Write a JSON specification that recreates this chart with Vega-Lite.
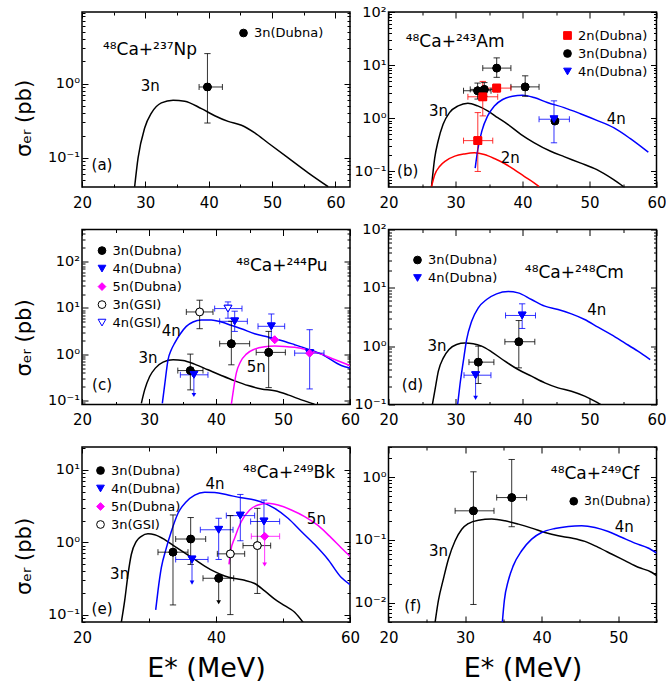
{
"$schema": "https://vega.github.io/schema/vega-lite/v6.json",
"padding": {"left": 12, "top": 3, "right": 5, "bottom": 3},
"config": {
 "font": "DejaVu Sans",
 "view": {"stroke": "#000000", "strokeWidth": 1.5},
 "axis": {"domain": false, "grid": false, "labelFontSize": 15, "labelColor": "#000000", "tickColor": "#000000", "tickWidth": 1, "labelFlush": false, "labelOverlap": false, "titleFontWeight": "normal", "titleColor": "#000000", "zindex": 1},
 "axisY": {"labelFontSize": 14.5, "titleFontSize": 21},
 "axisX": {"titleFontSize": 27, "titlePadding": 10},
 "text": {"color": "#000000"}
},
"datasets": {
 "ca": [
  {"c":"3n","E":28.31,"s":0.041},{"c":"3n","E":28.85,"s":0.1},{"c":"3n","E":29.89,"s":0.253},{"c":"3n","E":30.95,"s":0.40},{"c":"3n","E":32.53,"s":0.55},{"c":"3n","E":34.38,"s":0.597},{"c":"3n","E":36.21,"s":0.58},{"c":"3n","E":38.85,"s":0.46},{"c":"3n","E":40.95,"s":0.37},{"c":"3n","E":43.06,"s":0.31},{"c":"3n","E":45.17,"s":0.275},{"c":"3n","E":47.27,"s":0.217},{"c":"3n","E":49.38,"s":0.159},{"c":"3n","E":52.54,"s":0.1},{"c":"3n","E":55.7,"s":0.063},{"c":"3n","E":58.86,"s":0.041}
 ],
 "cb": [
  {"c":"3n","E":26.42,"s":0.052},{"c":"3n","E":26.9,"s":0.18},{"c":"3n","E":27.4,"s":0.37},{"c":"3n","E":28.15,"s":0.77},{"c":"3n","E":29.1,"s":1.28},{"c":"3n","E":30.4,"s":1.71},{"c":"3n","E":31.85,"s":1.92},{"c":"3n","E":33.3,"s":1.71},{"c":"3n","E":34.8,"s":1.38},{"c":"3n","E":36.3,"s":1.03},{"c":"3n","E":37.8,"s":0.77},{"c":"3n","E":39.75,"s":0.50},{"c":"3n","E":41.7,"s":0.35},{"c":"3n","E":44.2,"s":0.24},{"c":"3n","E":46.2,"s":0.19},{"c":"3n","E":48.6,"s":0.145},{"c":"3n","E":51.1,"s":0.108},{"c":"3n","E":53.6,"s":0.07},{"c":"3n","E":55.06,"s":0.052},
  {"c":"2n","E":26.42,"s":0.052},{"c":"2n","E":26.9,"s":0.087},{"c":"2n","E":27.65,"s":0.125},{"c":"2n","E":28.6,"s":0.16},{"c":"2n","E":29.9,"s":0.194},{"c":"2n","E":31.36,"s":0.214},{"c":"2n","E":32.84,"s":0.224},{"c":"2n","E":34.3,"s":0.208},{"c":"2n","E":35.8,"s":0.175},{"c":"2n","E":37.3,"s":0.141},{"c":"2n","E":38.77,"s":0.108},{"c":"2n","E":40.25,"s":0.081},{"c":"2n","E":41.73,"s":0.061},{"c":"2n","E":42.47,"s":0.052},
  {"c":"4n","E":32.94,"s":0.116},{"c":"4n","E":33.33,"s":0.26},{"c":"4n","E":33.93,"s":0.575},{"c":"4n","E":34.8,"s":1.11},{"c":"4n","E":35.8,"s":1.71},{"c":"4n","E":37.04,"s":2.26},{"c":"4n","E":38.5,"s":2.61},{"c":"4n","E":40.0,"s":2.72},{"c":"4n","E":41.73,"s":2.46},{"c":"4n","E":43.7,"s":1.98},{"c":"4n","E":46.2,"s":1.59},{"c":"4n","E":48.64,"s":1.22},{"c":"4n","E":51.1,"s":0.916},{"c":"4n","E":53.6,"s":0.666},{"c":"4n","E":56.05,"s":0.418},{"c":"4n","E":58.77,"s":0.23}
 ],
 "cc": [
  {"c":"3n","E":28.86,"s":0.086},{"c":"3n","E":29.35,"s":0.168},{"c":"3n","E":30.1,"s":0.327},{"c":"3n","E":30.95,"s":0.497},{"c":"3n","E":32.1,"s":0.67},{"c":"3n","E":33.6,"s":0.753},{"c":"3n","E":35.07,"s":0.728},{"c":"3n","E":36.8,"s":0.607},{"c":"3n","E":38.8,"s":0.457},{"c":"3n","E":40.8,"s":0.344},{"c":"3n","E":42.8,"s":0.263},{"c":"3n","E":44.8,"s":0.208},{"c":"3n","E":46.77,"s":0.176},{"c":"3n","E":48.76,"s":0.16},{"c":"3n","E":50.75,"s":0.131},{"c":"3n","E":52.74,"s":0.102},{"c":"3n","E":54.7,"s":0.082},
  {"c":"4n","E":31.99,"s":0.086},{"c":"4n","E":32.34,"s":0.215},{"c":"4n","E":32.84,"s":0.753},{"c":"4n","E":33.33,"s":1.24},{"c":"4n","E":33.83,"s":1.73},{"c":"4n","E":34.58,"s":2.63},{"c":"4n","E":35.57,"s":3.99},{"c":"4n","E":36.57,"s":4.96},{"c":"4n","E":37.8,"s":5.48},{"c":"4n","E":39.3,"s":5.48},{"c":"4n","E":40.8,"s":4.96},{"c":"4n","E":42.29,"s":4.2},{"c":"4n","E":43.78,"s":3.55},{"c":"4n","E":45.77,"s":2.77},{"c":"4n","E":47.76,"s":2.34},{"c":"4n","E":49.75,"s":1.98},{"c":"4n","E":51.74,"s":1.6},{"c":"4n","E":53.73,"s":1.28},{"c":"4n","E":55.72,"s":1.0},{"c":"4n","E":58.7,"s":0.567},{"c":"4n","E":60,"s":0.5},
  {"c":"5n","E":42.29,"s":0.082},{"c":"5n","E":42.64,"s":0.182},{"c":"5n","E":43.03,"s":0.386},{"c":"5n","E":43.68,"s":0.693},{"c":"5n","E":44.53,"s":1.0},{"c":"5n","E":45.77,"s":1.28},{"c":"5n","E":47.26,"s":1.44},{"c":"5n","E":48.76,"s":1.49},{"c":"5n","E":50.25,"s":1.47},{"c":"5n","E":51.74,"s":1.40},{"c":"5n","E":53.73,"s":1.22},{"c":"5n","E":55.72,"s":1.0},{"c":"5n","E":57.7,"s":0.765},{"c":"5n","E":60,"s":0.567}
 ],
 "cd": [
  {"c":"3n","E":26.55,"s":0.1},{"c":"3n","E":26.95,"s":0.181},{"c":"3n","E":27.44,"s":0.373},{"c":"3n","E":28.19,"s":0.63},{"c":"3n","E":29.03,"s":0.877},{"c":"3n","E":30.17,"s":1.07},{"c":"3n","E":31.41,"s":1.13},{"c":"3n","E":32.65,"s":1.1},{"c":"3n","E":33.9,"s":1.0},{"c":"3n","E":35.38,"s":0.8},{"c":"3n","E":37.37,"s":0.553},{"c":"3n","E":39.35,"s":0.398},{"c":"3n","E":41.34,"s":0.306},{"c":"3n","E":43.33,"s":0.235},{"c":"3n","E":45.31,"s":0.193},{"c":"3n","E":47.3,"s":0.169},{"c":"3n","E":49.28,"s":0.139},{"c":"3n","E":50.77,"s":0.114},{"c":"3n","E":51.66,"s":0.1},
  {"c":"4n","E":30.32,"s":0.1},{"c":"4n","E":30.67,"s":0.22},{"c":"4n","E":31.17,"s":0.553},{"c":"4n","E":31.66,"s":1.3},{"c":"4n","E":32.41,"s":2.68},{"c":"4n","E":33.4,"s":4.54},{"c":"4n","E":34.64,"s":6.31},{"c":"4n","E":36.13,"s":7.89},{"c":"4n","E":37.87,"s":8.65},{"c":"4n","E":39.35,"s":8.2},{"c":"4n","E":41.34,"s":6.31},{"c":"4n","E":43.33,"s":4.85},{"c":"4n","E":45.31,"s":4.25},{"c":"4n","E":47.3,"s":3.58},{"c":"4n","E":49.28,"s":2.87},{"c":"4n","E":51.27,"s":2.12},{"c":"4n","E":53.25,"s":1.58},{"c":"4n","E":55.24,"s":1.14},{"c":"4n","E":57.22,"s":0.82},{"c":"4n","E":59.06,"s":0.59}
 ],
 "ce": [
  {"c":"3n","E":25.87,"s":0.0785},{"c":"3n","E":26.37,"s":0.156},{"c":"3n","E":26.87,"s":0.361},{"c":"3n","E":27.36,"s":0.678},{"c":"3n","E":28.11,"s":1.03},{"c":"3n","E":28.86,"s":1.21},{"c":"3n","E":29.85,"s":1.31},{"c":"3n","E":30.85,"s":1.27},{"c":"3n","E":32.34,"s":1.09},{"c":"3n","E":33.83,"s":0.88},{"c":"3n","E":35.32,"s":0.714},{"c":"3n","E":36.82,"s":0.579},{"c":"3n","E":38.31,"s":0.469},{"c":"3n","E":39.8,"s":0.392},{"c":"3n","E":41.29,"s":0.342},{"c":"3n","E":42.79,"s":0.315},{"c":"3n","E":44.28,"s":0.298},{"c":"3n","E":45.77,"s":0.269},{"c":"3n","E":47.26,"s":0.213},{"c":"3n","E":48.76,"s":0.164},{"c":"3n","E":50.25,"s":0.133},{"c":"3n","E":51.74,"s":0.108},{"c":"3n","E":52.99,"s":0.0785},
  {"c":"4n","E":31.0,"s":0.116},{"c":"4n","E":31.34,"s":0.213},{"c":"4n","E":31.84,"s":0.445},{"c":"4n","E":32.59,"s":0.836},{"c":"4n","E":33.33,"s":1.41},{"c":"4n","E":34.33,"s":2.52},{"c":"4n","E":35.57,"s":3.65},{"c":"4n","E":36.82,"s":4.5},{"c":"4n","E":38.31,"s":4.94},{"c":"4n","E":39.8,"s":4.89},{"c":"4n","E":41.79,"s":4.5},{"c":"4n","E":43.78,"s":4.13},{"c":"4n","E":45.77,"s":3.84},{"c":"4n","E":47.26,"s":3.46},{"c":"4n","E":48.76,"s":2.95},{"c":"4n","E":50.75,"s":2.15},{"c":"4n","E":52.74,"s":1.41},{"c":"4n","E":54.73,"s":0.93},{"c":"4n","E":56.72,"s":0.579},{"c":"4n","E":58.71,"s":0.325},{"c":"4n","E":60,"s":0.26},
  {"c":"5n","E":41.94,"s":0.494},{"c":"5n","E":42.19,"s":0.753},{"c":"5n","E":42.79,"s":1.15},{"c":"5n","E":43.78,"s":1.94},{"c":"5n","E":45.02,"s":2.8},{"c":"5n","E":46.27,"s":3.28},{"c":"5n","E":47.76,"s":3.46},{"c":"5n","E":49.25,"s":3.28},{"c":"5n","E":51.24,"s":2.8},{"c":"5n","E":53.23,"s":2.27},{"c":"5n","E":55.22,"s":1.71},{"c":"5n","E":57.21,"s":1.15},{"c":"5n","E":58.71,"s":0.836},{"c":"5n","E":60,"s":0.643}
 ],
 "cf": [
  {"c":"3n","E":26.09,"s":0.00494},{"c":"3n","E":26.52,"s":0.0109},{"c":"3n","E":27.17,"s":0.024},{"c":"3n","E":27.83,"s":0.0497},{"c":"3n","E":28.7,"s":0.097},{"c":"3n","E":29.57,"s":0.148},{"c":"3n","E":30.43,"s":0.182},{"c":"3n","E":31.74,"s":0.206},{"c":"3n","E":33.48,"s":0.214},{"c":"3n","E":35.22,"s":0.201},{"c":"3n","E":36.96,"s":0.178},{"c":"3n","E":38.7,"s":0.154},{"c":"3n","E":40.43,"s":0.131},{"c":"3n","E":42.17,"s":0.116},{"c":"3n","E":43.91,"s":0.107},{"c":"3n","E":45.65,"s":0.0946},{"c":"3n","E":47.39,"s":0.076},{"c":"3n","E":49.13,"s":0.0597},{"c":"3n","E":50.87,"s":0.0468},{"c":"3n","E":52.61,"s":0.0367},{"c":"3n","E":54.35,"s":0.0306},{"c":"3n","E":55,"s":0.027},
  {"c":"4n","E":34.87,"s":0.00494},{"c":"4n","E":35.13,"s":0.0109},{"c":"4n","E":35.65,"s":0.0226},{"c":"4n","E":36.3,"s":0.039},{"c":"4n","E":37.39,"s":0.0673},{"c":"4n","E":38.7,"s":0.103},{"c":"4n","E":40,"s":0.131},{"c":"4n","E":41.74,"s":0.152},{"c":"4n","E":43.48,"s":0.164},{"c":"4n","E":45.22,"s":0.168},{"c":"4n","E":46.96,"s":0.158},{"c":"4n","E":48.7,"s":0.136},{"c":"4n","E":50.43,"s":0.11},{"c":"4n","E":52.17,"s":0.089},{"c":"4n","E":53.91,"s":0.0743},{"c":"4n","E":55,"s":0.0619}
 ],
 "pa": [{"g":"3n(Dubna)","E":39.8,"s":0.9,"xl":38.48,"xh":42.16,"yl":0.295,"yh":2.53}],
 "pb": [
  {"g":"3n(Dubna)","E":33.3,"s":3.3,"xl":31.2,"xh":35.3,"yl":2.3,"yh":4.6},
  {"g":"3n(Dubna)","E":34.3,"s":3.5,"xl":32.2,"xh":36.3,"yl":2.6,"yh":4.7},
  {"g":"3n(Dubna)","E":36.15,"s":8.8,"xl":34.07,"xh":38.27,"yl":5.9,"yh":13.7},
  {"g":"3n(Dubna)","E":40.4,"s":3.9,"xl":38.27,"xh":42.47,"yl":2.6,"yh":6.3},
  {"g":"3n(Dubna)","E":44.84,"s":0.89},
  {"g":"2n(Dubna)","E":33.33,"s":0.38,"xl":31.2,"xh":35.56,"yl":0.1,"yh":1.28},
  {"g":"2n(Dubna)","E":34.07,"s":2.54,"xl":31.85,"xh":36.3,"yl":1.11,"yh":4.94},
  {"g":"2n(Dubna)","E":36.15,"s":3.7,"xl":34.07,"xh":38.27},
  {"g":"4n(Dubna)","E":44.7,"s":0.96,"xl":42.47,"xh":47.0,"yl":0.346,"yh":2.13}
 ],
 "pc": [
  {"g":"3n(Dubna)","E":36.17,"s":0.44,"xl":34.3,"xh":38.06,"yl":0.168,"yh":1.0},
  {"g":"3n(Dubna)","E":42.29,"s":1.68,"xl":40.55,"xh":45.02,"yl":0.586,"yh":5.13},
  {"g":"3n(Dubna)","E":47.86,"s":1.09,"xl":46.0,"xh":50.35,"yl":0.188,"yh":3.1},
  {"g":"4n(Dubna)","E":36.7,"s":0.356,"xl":34.68,"xh":38.8,"lim":0.13},
  {"g":"4n(Dubna)","E":42.79,"s":5.13,"xl":40.55,"xh":44.68,"yl":3.1,"yh":8.5},
  {"g":"4n(Dubna)","E":48.26,"s":4.0,"xl":46.27,"xh":50.25,"yl":2.2,"yh":7.4},
  {"g":"4n(Dubna)","E":53.98,"s":1.05,"xl":51.74,"xh":56.12,"yl":0.176,"yh":3.38},
  {"g":"5n(Dubna)","E":48.76,"s":2.05},
  {"g":"5n(Dubna)","E":53.98,"s":1.05},
  {"g":"3n(GSI)","E":37.56,"s":8.19,"xl":35.57,"xh":39.55,"yl":3.55,"yh":14.7},
  {"g":"4n(GSI)","E":41.79,"s":9.68,"xl":39.8,"xh":43.88,"yl":6.0,"yh":13.5}
 ],
 "pd": [
  {"g":"3n(Dubna)","E":33.4,"s":0.532,"xl":32.01,"xh":35.73,"yl":0.229,"yh":1.0},
  {"g":"3n(Dubna)","E":39.45,"s":1.19,"xl":37.37,"xh":41.84,"yl":0.425,"yh":2.75},
  {"g":"4n(Dubna)","E":33.0,"s":0.318,"xl":31.27,"xh":35.29,"lim":0.13},
  {"g":"4n(Dubna)","E":39.95,"s":3.36,"xl":37.47,"xh":41.94,"yl":2.01,"yh":5.32}
 ],
 "pe": [
  {"g":"3n(Dubna)","E":33.58,"s":0.73,"xl":31.34,"xh":35.82,"yl":0.136,"yh":2.39},
  {"g":"3n(Dubna)","E":36.22,"s":1.11,"xl":33.98,"xh":38.46,"yl":0.494,"yh":2.2},
  {"g":"3n(Dubna)","E":40.4,"s":0.318,"xl":38.06,"xh":42.64,"lim":0.148},
  {"g":"4n(Dubna)","E":36.42,"s":0.579,"xl":33.98,"xh":38.81,"lim":0.277},
  {"g":"4n(Dubna)","E":40.4,"s":1.49,"xl":37.66,"xh":42.54,"yl":0.579,"yh":2.15},
  {"g":"4n(Dubna)","E":43.63,"s":2.34,"xl":41.54,"xh":45.77,"yl":1.05,"yh":4.59},
  {"g":"4n(Dubna)","E":47.16,"s":1.94,"xl":45.17,"xh":49.5,"yl":1.2,"yh":3.84},
  {"g":"5n(Dubna)","E":47.26,"s":1.21,"xl":45.27,"xh":49.5,"lim":0.494},
  {"g":"3n(GSI)","E":42.14,"s":0.692,"xl":40.2,"xh":44.28,"yl":0.1,"yh":2.34},
  {"g":"3n(GSI)","E":46.17,"s":0.9,"xl":44.03,"xh":48.16,"yl":0.196,"yh":2.95}
 ],
 "pf": [
  {"g":"3n(Dubna)","E":31.09,"s":0.29,"xl":28.7,"xh":33.78,"yl":0.0094,"yh":1.21},
  {"g":"3n(Dubna)","E":36.09,"s":0.471,"xl":34.13,"xh":38.04,"yl":0.162,"yh":1.9}
 ]
},
"columns": 2,
"spacing": {"row": 42.5, "column": 38.5},
"bounds": "flush",
"resolve": {"scale": {"x": "independent", "y": "independent", "color": "independent", "stroke": "independent", "fill": "independent", "shape": "independent"}, "legend": {"color": "independent", "stroke": "independent", "fill": "independent", "shape": "independent"}},
"concat": [
 {
  "width": 268, "height": 175,
  "resolve": {"axis": {"x": "independent", "y": "independent"}},
  "layer": [
   {"data": {"name": "ca"}, "mark": {"type": "line", "strokeWidth": 1.5, "clip": true, "interpolate": "monotone"},
    "encoding": {
     "x": {"field": "E", "type": "quantitative", "scale": {"domain": [20, 62.3], "nice": false, "zero": false}, "axis": {"orient": "bottom", "values": [20,30,40,50,60], "tickSize": 6, "offset": -6, "labelPadding": 8, "title": null}},
     "y": {"field": "s", "type": "quantitative", "scale": {"type": "log", "domain": [0.0407, 9.17], "nice": false}, "axis": {"orient": "left", "values": [0.1,1], "labelExpr": "datum.value==0.01?'10⁻²':datum.value==0.1?'10⁻¹':datum.value==1?'10⁰':datum.value==10?'10¹':'10²'", "tickSize": 6, "offset": -6, "labelPadding": 2.5, "title": "σₑᵣ (pb)", "titleX": -54, "titleY": 106}},
     "color": {"field": "c", "type": "nominal", "scale": {"domain": ["2n","3n","4n","5n"], "range": ["#ff0000","#000000","#0000ff","#ff00ff"]}, "legend": null}
    }},
   {"data": {"name": "ca"}, "mark": {"type": "point", "opacity": 0},
    "encoding": {"x": {"field": "E", "type": "quantitative", "axis": {"orient": "bottom", "values": [25,35,45,55], "labels": false, "tickSize": 3, "offset": -3, "title": null}},
     "y": {"field": "s", "type": "quantitative", "axis": {"orient": "left", "values": [0.05,0.06,0.07,0.08,0.09,0.2,0.3,0.4,0.5,0.6,0.7,0.8,0.9,2,3,4,5,6,7,8,9], "labels": false, "tickSize": 3, "offset": -3, "title": null}}}},
   {"data": {"name": "ca"}, "mark": {"type": "point", "opacity": 0},
    "encoding": {"x": {"field": "E", "type": "quantitative", "axis": {"orient": "top", "values": [20,30,40,50,60], "labels": false, "tickSize": 6, "offset": -6, "title": null}},
     "y": {"field": "s", "type": "quantitative", "axis": {"orient": "right", "values": [0.1,1], "labels": false, "tickSize": 6, "offset": -6, "title": null}}}},
   {"data": {"name": "ca"}, "mark": {"type": "point", "opacity": 0},
    "encoding": {"x": {"field": "E", "type": "quantitative", "axis": {"orient": "top", "values": [25,35,45,55], "labels": false, "tickSize": 3, "offset": -3, "title": null}},
     "y": {"field": "s", "type": "quantitative", "axis": {"orient": "right", "values": [0.05,0.06,0.07,0.08,0.09,0.2,0.3,0.4,0.5,0.6,0.7,0.8,0.9,2,3,4,5,6,7,8,9], "labels": false, "tickSize": 3, "offset": -3, "title": null}}}},
   {"data": {"name": "pa"}, "mark": {"type": "point", "size": 60, "strokeWidth": 1, "opacity": 1, "fillOpacity": 1},
    "encoding": {"x": {"field": "E", "type": "quantitative", "axis": null}, "y": {"field": "s", "type": "quantitative", "axis": null},
     "shape": {"field": "g", "type": "nominal", "scale": {"domain": ["3n(Dubna)"], "range": ["circle"]}, "legend": {"title": null, "orient": "none", "legendX": 155, "legendY": 14.5, "direction": "vertical", "labelFontSize": 13, "symbolSize": 60, "rowPadding": 4, "labelOffset": 4, "symbolStrokeWidth": 1, "symbolOpacity": 1, "padding": 0, "labelColor": "#000000"}},
     "fill": {"field": "g", "type": "nominal", "scale": {"domain": ["3n(Dubna)"], "range": ["#000000"]}, "legend": {"title": null, "orient": "none", "legendX": 155, "legendY": 14.5, "direction": "vertical", "labelFontSize": 13, "symbolSize": 60, "rowPadding": 4, "labelOffset": 4, "symbolStrokeWidth": 1, "symbolOpacity": 1, "padding": 0, "labelColor": "#000000"}},
     "stroke": {"field": "g", "type": "nominal", "scale": {"domain": ["3n(Dubna)"], "range": ["#000000"]}, "legend": {"title": null, "orient": "none", "legendX": 155, "legendY": 14.5, "direction": "vertical", "labelFontSize": 13, "symbolSize": 60, "rowPadding": 4, "labelOffset": 4, "symbolStrokeWidth": 1, "symbolOpacity": 1, "padding": 0, "labelColor": "#000000"}}}},
   {"data": {"name": "pa"}, "transform": [{"filter": "isValid(datum.xl)"}], "mark": {"type": "rule", "strokeWidth": 1, "opacity": 0.8},
    "encoding": {"x": {"field": "xl", "type": "quantitative", "axis": null}, "x2": {"field": "xh"}, "y": {"field": "s", "type": "quantitative", "axis": null}, "stroke": {"field": "g", "type": "nominal", "legend": null}}},
   {"data": {"name": "pa"}, "transform": [{"filter": "isValid(datum.yl)"}], "mark": {"type": "rule", "strokeWidth": 1, "opacity": 0.8},
    "encoding": {"x": {"field": "E", "type": "quantitative", "axis": null}, "y": {"field": "yl", "type": "quantitative", "axis": null}, "y2": {"field": "yh"}, "stroke": {"field": "g", "type": "nominal", "legend": null}}},
   {"data": {"name": "pa"}, "transform": [{"filter": "isValid(datum.xl)"}], "mark": {"type": "point", "shape": "M0,-1L0,1", "size": 36, "strokeWidth": 1, "opacity": 0.8},
    "encoding": {"x": {"field": "xl", "type": "quantitative", "axis": null}, "y": {"field": "s", "type": "quantitative", "axis": null}, "stroke": {"field": "g", "type": "nominal", "legend": null}}},
   {"data": {"name": "pa"}, "transform": [{"filter": "isValid(datum.xh)"}], "mark": {"type": "point", "shape": "M0,-1L0,1", "size": 36, "strokeWidth": 1, "opacity": 0.8},
    "encoding": {"x": {"field": "xh", "type": "quantitative", "axis": null}, "y": {"field": "s", "type": "quantitative", "axis": null}, "stroke": {"field": "g", "type": "nominal", "legend": null}}},
   {"data": {"name": "pa"}, "transform": [{"filter": "isValid(datum.yl)"}], "mark": {"type": "point", "shape": "M-1,0L1,0", "size": 40, "strokeWidth": 1, "opacity": 0.8},
    "encoding": {"x": {"field": "E", "type": "quantitative", "axis": null}, "y": {"field": "yl", "type": "quantitative", "axis": null}, "stroke": {"field": "g", "type": "nominal", "legend": null}}},
   {"data": {"name": "pa"}, "transform": [{"filter": "isValid(datum.yh)"}], "mark": {"type": "point", "shape": "M-1,0L1,0", "size": 40, "strokeWidth": 1, "opacity": 0.8},
    "encoding": {"x": {"field": "E", "type": "quantitative", "axis": null}, "y": {"field": "yh", "type": "quantitative", "axis": null}, "stroke": {"field": "g", "type": "nominal", "legend": null}}},
   {"data": {"name": "pa"}, "mark": {"type": "point", "size": 60, "strokeWidth": 1, "opacity": 1, "fillOpacity": 1},
    "encoding": {"x": {"field": "E", "type": "quantitative", "axis": null}, "y": {"field": "s", "type": "quantitative", "axis": null},
     "shape": {"field": "g", "type": "nominal", "legend": null}, "fill": {"field": "g", "type": "nominal", "legend": null}, "stroke": {"field": "g", "type": "nominal", "legend": null}}},
   {"data": {"values": [{}]}, "mark": {"type": "text", "text": "⁴⁸Ca+²³⁷Np", "fontSize": 17, "align": "left", "baseline": "middle"}, "encoding": {"x": {"datum": 23.3, "axis": null}, "y": {"datum": 2.86, "axis": null}}},
   {"data": {"values": [{}]}, "mark": {"type": "text", "text": "3n", "fontSize": 15, "align": "center", "baseline": "middle"}, "encoding": {"x": {"datum": 30.79, "axis": null}, "y": {"datum": 0.92, "axis": null}}},
   {"data": {"values": [{}]}, "mark": {"type": "text", "text": "(a)", "fontSize": 15, "align": "center", "baseline": "middle"}, "encoding": {"x": {"datum": 23.16, "axis": null}, "y": {"datum": 0.0815, "axis": null}}}
  ]
 },
 {
  "width": 268, "height": 175,
  "resolve": {"axis": {"x": "independent", "y": "independent"}},
  "layer": [
   {"data": {"name": "cb"}, "mark": {"type": "line", "strokeWidth": 1.5, "clip": true, "interpolate": "monotone"},
    "encoding": {
     "x": {"field": "E", "type": "quantitative", "scale": {"domain": [20, 60], "nice": false, "zero": false}, "axis": {"orient": "bottom", "values": [20,30,40,50,60], "tickSize": 6, "offset": -6, "labelPadding": 8, "title": null}},
     "y": {"field": "s", "type": "quantitative", "scale": {"type": "log", "domain": [0.051, 100], "nice": false}, "axis": {"orient": "left", "values": [0.1,1,10,100], "labelExpr": "datum.value==0.01?'10⁻²':datum.value==0.1?'10⁻¹':datum.value==1?'10⁰':datum.value==10?'10¹':'10²'", "tickSize": 6, "offset": -6, "labelPadding": 2.5, "title": null}},
     "color": {"field": "c", "type": "nominal", "scale": {"domain": ["2n","3n","4n","5n"], "range": ["#ff0000","#000000","#0000ff","#ff00ff"]}, "legend": null}
    }},
   {"data": {"name": "cb"}, "mark": {"type": "point", "opacity": 0},
    "encoding": {"x": {"field": "E", "type": "quantitative", "axis": {"orient": "bottom", "values": [25,35,45,55], "labels": false, "tickSize": 3, "offset": -3, "title": null}},
     "y": {"field": "s", "type": "quantitative", "axis": {"orient": "left", "values": [0.06,0.07,0.08,0.09,0.2,0.3,0.4,0.5,0.6,0.7,0.8,0.9,2,3,4,5,6,7,8,9,20,30,40,50,60,70,80,90], "labels": false, "tickSize": 3, "offset": -3, "title": null}}}},
   {"data": {"name": "cb"}, "mark": {"type": "point", "opacity": 0},
    "encoding": {"x": {"field": "E", "type": "quantitative", "axis": {"orient": "top", "values": [20,30,40,50,60], "labels": false, "tickSize": 6, "offset": -6, "title": null}},
     "y": {"field": "s", "type": "quantitative", "axis": {"orient": "right", "values": [0.1,1,10,100], "labels": false, "tickSize": 6, "offset": -6, "title": null}}}},
   {"data": {"name": "cb"}, "mark": {"type": "point", "opacity": 0},
    "encoding": {"x": {"field": "E", "type": "quantitative", "axis": {"orient": "top", "values": [25,35,45,55], "labels": false, "tickSize": 3, "offset": -3, "title": null}},
     "y": {"field": "s", "type": "quantitative", "axis": {"orient": "right", "values": [0.06,0.07,0.08,0.09,0.2,0.3,0.4,0.5,0.6,0.7,0.8,0.9,2,3,4,5,6,7,8,9,20,30,40,50,60,70,80,90], "labels": false, "tickSize": 3, "offset": -3, "title": null}}}},
   {"data": {"name": "pb"}, "mark": {"type": "point", "size": 60, "strokeWidth": 1, "opacity": 1, "fillOpacity": 1},
    "encoding": {"x": {"field": "E", "type": "quantitative", "axis": null}, "y": {"field": "s", "type": "quantitative", "axis": null},
     "shape": {"field": "g", "type": "nominal", "scale": {"domain": ["2n(Dubna)","3n(Dubna)","4n(Dubna)"], "range": ["square","circle","triangle-down"]}, "legend": {"title": null, "orient": "none", "legendX": 172.5, "legendY": 17, "direction": "vertical", "labelFontSize": 13, "symbolSize": 60, "rowPadding": 4, "labelOffset": 4, "symbolStrokeWidth": 1, "symbolOpacity": 1, "padding": 0, "labelColor": "#000000"}},
     "fill": {"field": "g", "type": "nominal", "scale": {"domain": ["2n(Dubna)","3n(Dubna)","4n(Dubna)"], "range": ["#ff0000","#000000","#0000ff"]}, "legend": {"title": null, "orient": "none", "legendX": 172.5, "legendY": 17, "direction": "vertical", "labelFontSize": 13, "symbolSize": 60, "rowPadding": 4, "labelOffset": 4, "symbolStrokeWidth": 1, "symbolOpacity": 1, "padding": 0, "labelColor": "#000000"}},
     "stroke": {"field": "g", "type": "nominal", "scale": {"domain": ["2n(Dubna)","3n(Dubna)","4n(Dubna)"], "range": ["#ff0000","#000000","#0000ff"]}, "legend": {"title": null, "orient": "none", "legendX": 172.5, "legendY": 17, "direction": "vertical", "labelFontSize": 13, "symbolSize": 60, "rowPadding": 4, "labelOffset": 4, "symbolStrokeWidth": 1, "symbolOpacity": 1, "padding": 0, "labelColor": "#000000"}}}},
   {"data": {"name": "pb"}, "transform": [{"filter": "isValid(datum.xl)"}], "mark": {"type": "rule", "strokeWidth": 1, "opacity": 0.8},
    "encoding": {"x": {"field": "xl", "type": "quantitative", "axis": null}, "x2": {"field": "xh"}, "y": {"field": "s", "type": "quantitative", "axis": null}, "stroke": {"field": "g", "type": "nominal", "legend": null}}},
   {"data": {"name": "pb"}, "transform": [{"filter": "isValid(datum.yl)"}], "mark": {"type": "rule", "strokeWidth": 1, "opacity": 0.8},
    "encoding": {"x": {"field": "E", "type": "quantitative", "axis": null}, "y": {"field": "yl", "type": "quantitative", "axis": null}, "y2": {"field": "yh"}, "stroke": {"field": "g", "type": "nominal", "legend": null}}},
   {"data": {"name": "pb"}, "transform": [{"filter": "isValid(datum.xl)"}], "mark": {"type": "point", "shape": "M0,-1L0,1", "size": 36, "strokeWidth": 1, "opacity": 0.8},
    "encoding": {"x": {"field": "xl", "type": "quantitative", "axis": null}, "y": {"field": "s", "type": "quantitative", "axis": null}, "stroke": {"field": "g", "type": "nominal", "legend": null}}},
   {"data": {"name": "pb"}, "transform": [{"filter": "isValid(datum.xh)"}], "mark": {"type": "point", "shape": "M0,-1L0,1", "size": 36, "strokeWidth": 1, "opacity": 0.8},
    "encoding": {"x": {"field": "xh", "type": "quantitative", "axis": null}, "y": {"field": "s", "type": "quantitative", "axis": null}, "stroke": {"field": "g", "type": "nominal", "legend": null}}},
   {"data": {"name": "pb"}, "transform": [{"filter": "isValid(datum.yl)"}], "mark": {"type": "point", "shape": "M-1,0L1,0", "size": 40, "strokeWidth": 1, "opacity": 0.8},
    "encoding": {"x": {"field": "E", "type": "quantitative", "axis": null}, "y": {"field": "yl", "type": "quantitative", "axis": null}, "stroke": {"field": "g", "type": "nominal", "legend": null}}},
   {"data": {"name": "pb"}, "transform": [{"filter": "isValid(datum.yh)"}], "mark": {"type": "point", "shape": "M-1,0L1,0", "size": 40, "strokeWidth": 1, "opacity": 0.8},
    "encoding": {"x": {"field": "E", "type": "quantitative", "axis": null}, "y": {"field": "yh", "type": "quantitative", "axis": null}, "stroke": {"field": "g", "type": "nominal", "legend": null}}},
   {"data": {"name": "pb"}, "mark": {"type": "point", "size": 60, "strokeWidth": 1, "opacity": 1, "fillOpacity": 1},
    "encoding": {"x": {"field": "E", "type": "quantitative", "axis": null}, "y": {"field": "s", "type": "quantitative", "axis": null},
     "shape": {"field": "g", "type": "nominal", "legend": null}, "fill": {"field": "g", "type": "nominal", "legend": null}, "stroke": {"field": "g", "type": "nominal", "legend": null}}},
   {"data": {"values": [{}]}, "mark": {"type": "text", "text": "⁴⁸Ca+²⁴³Am", "fontSize": 17, "align": "left", "baseline": "middle"}, "encoding": {"x": {"datum": 22.57, "axis": null}, "y": {"datum": 26.7, "axis": null}}},
   {"data": {"values": [{}]}, "mark": {"type": "text", "text": "3n", "fontSize": 15, "align": "center", "baseline": "middle"}, "encoding": {"x": {"datum": 27.46, "axis": null}, "y": {"datum": 1.38, "axis": null}}},
   {"data": {"values": [{}]}, "mark": {"type": "text", "text": "2n", "fontSize": 15, "align": "center", "baseline": "middle"}, "encoding": {"x": {"datum": 38.17, "axis": null}, "y": {"datum": 0.18, "axis": null}}},
   {"data": {"values": [{}]}, "mark": {"type": "text", "text": "4n", "fontSize": 15, "align": "center", "baseline": "middle"}, "encoding": {"x": {"datum": 53.98, "axis": null}, "y": {"datum": 0.955, "axis": null}}},
   {"data": {"values": [{}]}, "mark": {"type": "text", "text": "(b)", "fontSize": 15, "align": "center", "baseline": "middle"}, "encoding": {"x": {"datum": 22.86, "axis": null}, "y": {"datum": 0.1, "axis": null}}}
  ]
 },
 {
  "width": 268, "height": 175,
  "resolve": {"axis": {"x": "independent", "y": "independent"}},
  "layer": [
   {"data": {"name": "cc"}, "mark": {"type": "line", "strokeWidth": 1.5, "clip": true, "interpolate": "monotone"},
    "encoding": {
     "x": {"field": "E", "type": "quantitative", "scale": {"domain": [20, 60], "nice": false, "zero": false}, "axis": {"orient": "bottom", "values": [20,30,40,50,60], "tickSize": 6, "offset": -6, "labelPadding": 8, "title": null}},
     "y": {"field": "s", "type": "quantitative", "scale": {"type": "log", "domain": [0.081, 500], "nice": false}, "axis": {"orient": "left", "values": [0.1,1,10,100], "labelExpr": "datum.value==0.01?'10⁻²':datum.value==0.1?'10⁻¹':datum.value==1?'10⁰':datum.value==10?'10¹':'10²'", "tickSize": 6, "offset": -6, "labelPadding": 2.5, "title": "σₑᵣ (pb)", "titleX": -54, "titleY": 108}},
     "color": {"field": "c", "type": "nominal", "scale": {"domain": ["2n","3n","4n","5n"], "range": ["#ff0000","#000000","#0000ff","#ff00ff"]}, "legend": null}
    }},
   {"data": {"name": "cc"}, "mark": {"type": "point", "opacity": 0},
    "encoding": {"x": {"field": "E", "type": "quantitative", "axis": {"orient": "bottom", "values": [25,35,45,55], "labels": false, "tickSize": 3, "offset": -3, "title": null}},
     "y": {"field": "s", "type": "quantitative", "axis": {"orient": "left", "values": [0.09,0.2,0.3,0.4,0.5,0.6,0.7,0.8,0.9,2,3,4,5,6,7,8,9,20,30,40,50,60,70,80,90,200,300,400,500], "labels": false, "tickSize": 3, "offset": -3, "title": null}}}},
   {"data": {"name": "cc"}, "mark": {"type": "point", "opacity": 0},
    "encoding": {"x": {"field": "E", "type": "quantitative", "axis": {"orient": "top", "values": [20,30,40,50,60], "labels": false, "tickSize": 6, "offset": -6, "title": null}},
     "y": {"field": "s", "type": "quantitative", "axis": {"orient": "right", "values": [0.1,1,10,100], "labels": false, "tickSize": 6, "offset": -6, "title": null}}}},
   {"data": {"name": "cc"}, "mark": {"type": "point", "opacity": 0},
    "encoding": {"x": {"field": "E", "type": "quantitative", "axis": {"orient": "top", "values": [25,35,45,55], "labels": false, "tickSize": 3, "offset": -3, "title": null}},
     "y": {"field": "s", "type": "quantitative", "axis": {"orient": "right", "values": [0.09,0.2,0.3,0.4,0.5,0.6,0.7,0.8,0.9,2,3,4,5,6,7,8,9,20,30,40,50,60,70,80,90,200,300,400,500], "labels": false, "tickSize": 3, "offset": -3, "title": null}}}},
   {"data": {"name": "pc"}, "mark": {"type": "point", "size": 60, "strokeWidth": 1, "opacity": 1, "fillOpacity": 1},
    "encoding": {"x": {"field": "E", "type": "quantitative", "axis": null}, "y": {"field": "s", "type": "quantitative", "axis": null},
     "shape": {"field": "g", "type": "nominal", "scale": {"domain": ["3n(Dubna)","4n(Dubna)","5n(Dubna)","3n(GSI)","4n(GSI)"], "range": ["circle","triangle-down","diamond","circle","triangle-down"]}, "legend": {"title": null, "orient": "none", "legendX": 13.5, "legendY": 14.6, "direction": "vertical", "labelFontSize": 13, "symbolSize": 60, "rowPadding": 4, "labelOffset": 4, "symbolStrokeWidth": 1, "symbolOpacity": 1, "padding": 0, "labelColor": "#000000"}},
     "fill": {"field": "g", "type": "nominal", "scale": {"domain": ["3n(Dubna)","4n(Dubna)","5n(Dubna)","3n(GSI)","4n(GSI)"], "range": ["#000000","#0000ff","#ff00ff","#ffffff","#ffffff"]}, "legend": {"title": null, "orient": "none", "legendX": 13.5, "legendY": 14.6, "direction": "vertical", "labelFontSize": 13, "symbolSize": 60, "rowPadding": 4, "labelOffset": 4, "symbolStrokeWidth": 1, "symbolOpacity": 1, "padding": 0, "labelColor": "#000000"}},
     "stroke": {"field": "g", "type": "nominal", "scale": {"domain": ["3n(Dubna)","4n(Dubna)","5n(Dubna)","3n(GSI)","4n(GSI)"], "range": ["#000000","#0000ff","#ff00ff","#000000","#0000ff"]}, "legend": {"title": null, "orient": "none", "legendX": 13.5, "legendY": 14.6, "direction": "vertical", "labelFontSize": 13, "symbolSize": 60, "rowPadding": 4, "labelOffset": 4, "symbolStrokeWidth": 1, "symbolOpacity": 1, "padding": 0, "labelColor": "#000000"}}}},
   {"data": {"name": "pc"}, "transform": [{"filter": "isValid(datum.xl)"}], "mark": {"type": "rule", "strokeWidth": 1, "opacity": 0.8},
    "encoding": {"x": {"field": "xl", "type": "quantitative", "axis": null}, "x2": {"field": "xh"}, "y": {"field": "s", "type": "quantitative", "axis": null}, "stroke": {"field": "g", "type": "nominal", "legend": null}}},
   {"data": {"name": "pc"}, "transform": [{"filter": "isValid(datum.yl)"}], "mark": {"type": "rule", "strokeWidth": 1, "opacity": 0.8},
    "encoding": {"x": {"field": "E", "type": "quantitative", "axis": null}, "y": {"field": "yl", "type": "quantitative", "axis": null}, "y2": {"field": "yh"}, "stroke": {"field": "g", "type": "nominal", "legend": null}}},
   {"data": {"name": "pc"}, "transform": [{"filter": "isValid(datum.xl)"}], "mark": {"type": "point", "shape": "M0,-1L0,1", "size": 36, "strokeWidth": 1, "opacity": 0.8},
    "encoding": {"x": {"field": "xl", "type": "quantitative", "axis": null}, "y": {"field": "s", "type": "quantitative", "axis": null}, "stroke": {"field": "g", "type": "nominal", "legend": null}}},
   {"data": {"name": "pc"}, "transform": [{"filter": "isValid(datum.xh)"}], "mark": {"type": "point", "shape": "M0,-1L0,1", "size": 36, "strokeWidth": 1, "opacity": 0.8},
    "encoding": {"x": {"field": "xh", "type": "quantitative", "axis": null}, "y": {"field": "s", "type": "quantitative", "axis": null}, "stroke": {"field": "g", "type": "nominal", "legend": null}}},
   {"data": {"name": "pc"}, "transform": [{"filter": "isValid(datum.yl)"}], "mark": {"type": "point", "shape": "M-1,0L1,0", "size": 40, "strokeWidth": 1, "opacity": 0.8},
    "encoding": {"x": {"field": "E", "type": "quantitative", "axis": null}, "y": {"field": "yl", "type": "quantitative", "axis": null}, "stroke": {"field": "g", "type": "nominal", "legend": null}}},
   {"data": {"name": "pc"}, "transform": [{"filter": "isValid(datum.yh)"}], "mark": {"type": "point", "shape": "M-1,0L1,0", "size": 40, "strokeWidth": 1, "opacity": 0.8},
    "encoding": {"x": {"field": "E", "type": "quantitative", "axis": null}, "y": {"field": "yh", "type": "quantitative", "axis": null}, "stroke": {"field": "g", "type": "nominal", "legend": null}}},
   {"data": {"name": "pc"}, "transform": [{"filter": "isValid(datum.lim)"}], "mark": {"type": "rule", "strokeWidth": 1, "opacity": 0.8},
    "encoding": {"x": {"field": "E", "type": "quantitative", "axis": null}, "y": {"field": "s", "type": "quantitative", "axis": null}, "y2": {"field": "lim"}, "stroke": {"field": "g", "type": "nominal", "legend": null}}},
   {"data": {"name": "pc"}, "transform": [{"filter": "isValid(datum.lim)"}], "mark": {"type": "point", "shape": "triangle-down", "size": 22, "filled": true, "opacity": 1},
    "encoding": {"x": {"field": "E", "type": "quantitative", "axis": null}, "y": {"field": "lim", "type": "quantitative", "axis": null}, "fill": {"field": "g", "type": "nominal", "legend": null}}},
   {"data": {"name": "pc"}, "mark": {"type": "point", "size": 60, "strokeWidth": 1, "opacity": 1, "fillOpacity": 1},
    "encoding": {"x": {"field": "E", "type": "quantitative", "axis": null}, "y": {"field": "s", "type": "quantitative", "axis": null},
     "shape": {"field": "g", "type": "nominal", "legend": null}, "fill": {"field": "g", "type": "nominal", "legend": null}, "stroke": {"field": "g", "type": "nominal", "legend": null}}},
   {"data": {"values": [{}]}, "mark": {"type": "text", "text": "⁴⁸Ca+²⁴⁴Pu", "fontSize": 17, "align": "left", "baseline": "middle"}, "encoding": {"x": {"datum": 43.03, "axis": null}, "y": {"datum": 81.8, "axis": null}}},
   {"data": {"values": [{}]}, "mark": {"type": "text", "text": "4n", "fontSize": 15, "align": "center", "baseline": "middle"}, "encoding": {"x": {"datum": 33.33, "axis": null}, "y": {"datum": 3.11, "axis": null}}},
   {"data": {"values": [{}]}, "mark": {"type": "text", "text": "3n", "fontSize": 15, "align": "center", "baseline": "middle"}, "encoding": {"x": {"datum": 29.85, "axis": null}, "y": {"datum": 0.82, "axis": null}}},
   {"data": {"values": [{}]}, "mark": {"type": "text", "text": "5n", "fontSize": 15, "align": "center", "baseline": "middle"}, "encoding": {"x": {"datum": 46.0, "axis": null}, "y": {"datum": 0.52, "axis": null}}},
   {"data": {"values": [{}]}, "mark": {"type": "text", "text": "(c)", "fontSize": 15, "align": "center", "baseline": "middle"}, "encoding": {"x": {"datum": 22.99, "axis": null}, "y": {"datum": 0.215, "axis": null}}}
  ]
 },
 {
  "width": 268, "height": 175,
  "resolve": {"axis": {"x": "independent", "y": "independent"}},
  "layer": [
   {"data": {"name": "cd"}, "mark": {"type": "line", "strokeWidth": 1.5, "clip": true, "interpolate": "monotone"},
    "encoding": {
     "x": {"field": "E", "type": "quantitative", "scale": {"domain": [20, 60], "nice": false, "zero": false}, "axis": {"orient": "bottom", "values": [20,30,40,50,60], "tickSize": 6, "offset": -6, "labelPadding": 8, "title": null}},
     "y": {"field": "s", "type": "quantitative", "scale": {"type": "log", "domain": [0.1, 100], "nice": false}, "axis": {"orient": "left", "values": [0.1,1,10,100], "labelExpr": "datum.value==0.01?'10⁻²':datum.value==0.1?'10⁻¹':datum.value==1?'10⁰':datum.value==10?'10¹':'10²'", "tickSize": 6, "offset": -6, "labelPadding": 2.5, "title": null}},
     "color": {"field": "c", "type": "nominal", "scale": {"domain": ["2n","3n","4n","5n"], "range": ["#ff0000","#000000","#0000ff","#ff00ff"]}, "legend": null}
    }},
   {"data": {"name": "cd"}, "mark": {"type": "point", "opacity": 0},
    "encoding": {"x": {"field": "E", "type": "quantitative", "axis": {"orient": "bottom", "values": [25,35,45,55], "labels": false, "tickSize": 3, "offset": -3, "title": null}},
     "y": {"field": "s", "type": "quantitative", "axis": {"orient": "left", "values": [0.2,0.3,0.4,0.5,0.6,0.7,0.8,0.9,2,3,4,5,6,7,8,9,20,30,40,50,60,70,80,90], "labels": false, "tickSize": 3, "offset": -3, "title": null}}}},
   {"data": {"name": "cd"}, "mark": {"type": "point", "opacity": 0},
    "encoding": {"x": {"field": "E", "type": "quantitative", "axis": {"orient": "top", "values": [20,30,40,50,60], "labels": false, "tickSize": 6, "offset": -6, "title": null}},
     "y": {"field": "s", "type": "quantitative", "axis": {"orient": "right", "values": [0.1,1,10,100], "labels": false, "tickSize": 6, "offset": -6, "title": null}}}},
   {"data": {"name": "cd"}, "mark": {"type": "point", "opacity": 0},
    "encoding": {"x": {"field": "E", "type": "quantitative", "axis": {"orient": "top", "values": [25,35,45,55], "labels": false, "tickSize": 3, "offset": -3, "title": null}},
     "y": {"field": "s", "type": "quantitative", "axis": {"orient": "right", "values": [0.2,0.3,0.4,0.5,0.6,0.7,0.8,0.9,2,3,4,5,6,7,8,9,20,30,40,50,60,70,80,90], "labels": false, "tickSize": 3, "offset": -3, "title": null}}}},
   {"data": {"name": "pd"}, "mark": {"type": "point", "size": 60, "strokeWidth": 1, "opacity": 1, "fillOpacity": 1},
    "encoding": {"x": {"field": "E", "type": "quantitative", "axis": null}, "y": {"field": "s", "type": "quantitative", "axis": null},
     "shape": {"field": "g", "type": "nominal", "scale": {"domain": ["3n(Dubna)","4n(Dubna)"], "range": ["circle","triangle-down"]}, "legend": {"title": null, "orient": "none", "legendX": 22.5, "legendY": 24, "direction": "vertical", "labelFontSize": 13, "symbolSize": 60, "rowPadding": 4, "labelOffset": 4, "symbolStrokeWidth": 1, "symbolOpacity": 1, "padding": 0, "labelColor": "#000000"}},
     "fill": {"field": "g", "type": "nominal", "scale": {"domain": ["3n(Dubna)","4n(Dubna)"], "range": ["#000000","#0000ff"]}, "legend": {"title": null, "orient": "none", "legendX": 22.5, "legendY": 24, "direction": "vertical", "labelFontSize": 13, "symbolSize": 60, "rowPadding": 4, "labelOffset": 4, "symbolStrokeWidth": 1, "symbolOpacity": 1, "padding": 0, "labelColor": "#000000"}},
     "stroke": {"field": "g", "type": "nominal", "scale": {"domain": ["3n(Dubna)","4n(Dubna)"], "range": ["#000000","#0000ff"]}, "legend": {"title": null, "orient": "none", "legendX": 22.5, "legendY": 24, "direction": "vertical", "labelFontSize": 13, "symbolSize": 60, "rowPadding": 4, "labelOffset": 4, "symbolStrokeWidth": 1, "symbolOpacity": 1, "padding": 0, "labelColor": "#000000"}}}},
   {"data": {"name": "pd"}, "transform": [{"filter": "isValid(datum.xl)"}], "mark": {"type": "rule", "strokeWidth": 1, "opacity": 0.8},
    "encoding": {"x": {"field": "xl", "type": "quantitative", "axis": null}, "x2": {"field": "xh"}, "y": {"field": "s", "type": "quantitative", "axis": null}, "stroke": {"field": "g", "type": "nominal", "legend": null}}},
   {"data": {"name": "pd"}, "transform": [{"filter": "isValid(datum.yl)"}], "mark": {"type": "rule", "strokeWidth": 1, "opacity": 0.8},
    "encoding": {"x": {"field": "E", "type": "quantitative", "axis": null}, "y": {"field": "yl", "type": "quantitative", "axis": null}, "y2": {"field": "yh"}, "stroke": {"field": "g", "type": "nominal", "legend": null}}},
   {"data": {"name": "pd"}, "transform": [{"filter": "isValid(datum.xl)"}], "mark": {"type": "point", "shape": "M0,-1L0,1", "size": 36, "strokeWidth": 1, "opacity": 0.8},
    "encoding": {"x": {"field": "xl", "type": "quantitative", "axis": null}, "y": {"field": "s", "type": "quantitative", "axis": null}, "stroke": {"field": "g", "type": "nominal", "legend": null}}},
   {"data": {"name": "pd"}, "transform": [{"filter": "isValid(datum.xh)"}], "mark": {"type": "point", "shape": "M0,-1L0,1", "size": 36, "strokeWidth": 1, "opacity": 0.8},
    "encoding": {"x": {"field": "xh", "type": "quantitative", "axis": null}, "y": {"field": "s", "type": "quantitative", "axis": null}, "stroke": {"field": "g", "type": "nominal", "legend": null}}},
   {"data": {"name": "pd"}, "transform": [{"filter": "isValid(datum.yl)"}], "mark": {"type": "point", "shape": "M-1,0L1,0", "size": 40, "strokeWidth": 1, "opacity": 0.8},
    "encoding": {"x": {"field": "E", "type": "quantitative", "axis": null}, "y": {"field": "yl", "type": "quantitative", "axis": null}, "stroke": {"field": "g", "type": "nominal", "legend": null}}},
   {"data": {"name": "pd"}, "transform": [{"filter": "isValid(datum.yh)"}], "mark": {"type": "point", "shape": "M-1,0L1,0", "size": 40, "strokeWidth": 1, "opacity": 0.8},
    "encoding": {"x": {"field": "E", "type": "quantitative", "axis": null}, "y": {"field": "yh", "type": "quantitative", "axis": null}, "stroke": {"field": "g", "type": "nominal", "legend": null}}},
   {"data": {"name": "pd"}, "transform": [{"filter": "isValid(datum.lim)"}], "mark": {"type": "rule", "strokeWidth": 1, "opacity": 0.8},
    "encoding": {"x": {"field": "E", "type": "quantitative", "axis": null}, "y": {"field": "s", "type": "quantitative", "axis": null}, "y2": {"field": "lim"}, "stroke": {"field": "g", "type": "nominal", "legend": null}}},
   {"data": {"name": "pd"}, "transform": [{"filter": "isValid(datum.lim)"}], "mark": {"type": "point", "shape": "triangle-down", "size": 22, "filled": true, "opacity": 1},
    "encoding": {"x": {"field": "E", "type": "quantitative", "axis": null}, "y": {"field": "lim", "type": "quantitative", "axis": null}, "fill": {"field": "g", "type": "nominal", "legend": null}}},
   {"data": {"name": "pd"}, "mark": {"type": "point", "size": 60, "strokeWidth": 1, "opacity": 1, "fillOpacity": 1},
    "encoding": {"x": {"field": "E", "type": "quantitative", "axis": null}, "y": {"field": "s", "type": "quantitative", "axis": null},
     "shape": {"field": "g", "type": "nominal", "legend": null}, "fill": {"field": "g", "type": "nominal", "legend": null}, "stroke": {"field": "g", "type": "nominal", "legend": null}}},
   {"data": {"values": [{}]}, "mark": {"type": "text", "text": "⁴⁸Ca+²⁴⁸Cm", "fontSize": 17, "align": "left", "baseline": "middle"}, "encoding": {"x": {"datum": 40.35, "axis": null}, "y": {"datum": 17.8, "axis": null}}},
   {"data": {"values": [{}]}, "mark": {"type": "text", "text": "4n", "fontSize": 15, "align": "center", "baseline": "middle"}, "encoding": {"x": {"datum": 51.07, "axis": null}, "y": {"datum": 4.09, "axis": null}}},
   {"data": {"values": [{}]}, "mark": {"type": "text", "text": "3n", "fontSize": 15, "align": "center", "baseline": "middle"}, "encoding": {"x": {"datum": 27.25, "axis": null}, "y": {"datum": 1.0, "axis": null}}},
   {"data": {"values": [{}]}, "mark": {"type": "text", "text": "(d)", "fontSize": 15, "align": "center", "baseline": "middle"}, "encoding": {"x": {"datum": 23.57, "axis": null}, "y": {"datum": 0.214, "axis": null}}}
  ]
 },
 {
  "width": 268, "height": 175,
  "resolve": {"axis": {"x": "independent", "y": "independent"}},
  "layer": [
   {"data": {"name": "ce"}, "mark": {"type": "line", "strokeWidth": 1.5, "clip": true, "interpolate": "monotone"},
    "encoding": {
     "x": {"field": "E", "type": "quantitative", "scale": {"domain": [20, 60], "nice": false, "zero": false}, "axis": {"orient": "bottom", "values": [20,40,60], "tickSize": 6, "offset": -6, "labelPadding": 8, "title": "E* (MeV)", "titleX": 124}},
     "y": {"field": "s", "type": "quantitative", "scale": {"type": "log", "domain": [0.079, 20.8], "nice": false}, "axis": {"orient": "left", "values": [0.1,1,10], "labelExpr": "datum.value==0.01?'10⁻²':datum.value==0.1?'10⁻¹':datum.value==1?'10⁰':datum.value==10?'10¹':'10²'", "tickSize": 6, "offset": -6, "labelPadding": 2.5, "title": "σₑᵣ (pb)", "titleX": -54, "titleY": 109}},
     "color": {"field": "c", "type": "nominal", "scale": {"domain": ["2n","3n","4n","5n"], "range": ["#ff0000","#000000","#0000ff","#ff00ff"]}, "legend": null}
    }},
   {"data": {"name": "ce"}, "mark": {"type": "point", "opacity": 0},
    "encoding": {"x": {"field": "E", "type": "quantitative", "axis": {"orient": "bottom", "values": [30,50], "labels": false, "tickSize": 4, "offset": -4, "title": null}},
     "y": {"field": "s", "type": "quantitative", "axis": {"orient": "left", "values": [0.08,0.09,0.2,0.3,0.4,0.5,0.6,0.7,0.8,0.9,2,3,4,5,6,7,8,9,20], "labels": false, "tickSize": 3, "offset": -3, "title": null}}}},
   {"data": {"name": "ce"}, "mark": {"type": "point", "opacity": 0},
    "encoding": {"x": {"field": "E", "type": "quantitative", "axis": {"orient": "top", "values": [20,40,60], "labels": false, "tickSize": 6, "offset": -6, "title": null}},
     "y": {"field": "s", "type": "quantitative", "axis": {"orient": "right", "values": [0.1,1,10], "labels": false, "tickSize": 6, "offset": -6, "title": null}}}},
   {"data": {"name": "ce"}, "mark": {"type": "point", "opacity": 0},
    "encoding": {"x": {"field": "E", "type": "quantitative", "axis": {"orient": "top", "values": [30,50], "labels": false, "tickSize": 4, "offset": -4, "title": null}},
     "y": {"field": "s", "type": "quantitative", "axis": {"orient": "right", "values": [0.08,0.09,0.2,0.3,0.4,0.5,0.6,0.7,0.8,0.9,2,3,4,5,6,7,8,9,20], "labels": false, "tickSize": 3, "offset": -3, "title": null}}}},
   {"data": {"name": "pe"}, "mark": {"type": "point", "size": 60, "strokeWidth": 1, "opacity": 1, "fillOpacity": 1},
    "encoding": {"x": {"field": "E", "type": "quantitative", "axis": null}, "y": {"field": "s", "type": "quantitative", "axis": null},
     "shape": {"field": "g", "type": "nominal", "scale": {"domain": ["3n(Dubna)","4n(Dubna)","5n(Dubna)","3n(GSI)"], "range": ["circle","triangle-down","diamond","circle"]}, "legend": {"title": null, "orient": "none", "legendX": 12, "legendY": 17, "direction": "vertical", "labelFontSize": 13, "symbolSize": 60, "rowPadding": 4, "labelOffset": 4, "symbolStrokeWidth": 1, "symbolOpacity": 1, "padding": 0, "labelColor": "#000000"}},
     "fill": {"field": "g", "type": "nominal", "scale": {"domain": ["3n(Dubna)","4n(Dubna)","5n(Dubna)","3n(GSI)"], "range": ["#000000","#0000ff","#ff00ff","#ffffff"]}, "legend": {"title": null, "orient": "none", "legendX": 12, "legendY": 17, "direction": "vertical", "labelFontSize": 13, "symbolSize": 60, "rowPadding": 4, "labelOffset": 4, "symbolStrokeWidth": 1, "symbolOpacity": 1, "padding": 0, "labelColor": "#000000"}},
     "stroke": {"field": "g", "type": "nominal", "scale": {"domain": ["3n(Dubna)","4n(Dubna)","5n(Dubna)","3n(GSI)"], "range": ["#000000","#0000ff","#ff00ff","#000000"]}, "legend": {"title": null, "orient": "none", "legendX": 12, "legendY": 17, "direction": "vertical", "labelFontSize": 13, "symbolSize": 60, "rowPadding": 4, "labelOffset": 4, "symbolStrokeWidth": 1, "symbolOpacity": 1, "padding": 0, "labelColor": "#000000"}}}},
   {"data": {"name": "pe"}, "transform": [{"filter": "isValid(datum.xl)"}], "mark": {"type": "rule", "strokeWidth": 1, "opacity": 0.8},
    "encoding": {"x": {"field": "xl", "type": "quantitative", "axis": null}, "x2": {"field": "xh"}, "y": {"field": "s", "type": "quantitative", "axis": null}, "stroke": {"field": "g", "type": "nominal", "legend": null}}},
   {"data": {"name": "pe"}, "transform": [{"filter": "isValid(datum.yl)"}], "mark": {"type": "rule", "strokeWidth": 1, "opacity": 0.8},
    "encoding": {"x": {"field": "E", "type": "quantitative", "axis": null}, "y": {"field": "yl", "type": "quantitative", "axis": null}, "y2": {"field": "yh"}, "stroke": {"field": "g", "type": "nominal", "legend": null}}},
   {"data": {"name": "pe"}, "transform": [{"filter": "isValid(datum.xl)"}], "mark": {"type": "point", "shape": "M0,-1L0,1", "size": 36, "strokeWidth": 1, "opacity": 0.8},
    "encoding": {"x": {"field": "xl", "type": "quantitative", "axis": null}, "y": {"field": "s", "type": "quantitative", "axis": null}, "stroke": {"field": "g", "type": "nominal", "legend": null}}},
   {"data": {"name": "pe"}, "transform": [{"filter": "isValid(datum.xh)"}], "mark": {"type": "point", "shape": "M0,-1L0,1", "size": 36, "strokeWidth": 1, "opacity": 0.8},
    "encoding": {"x": {"field": "xh", "type": "quantitative", "axis": null}, "y": {"field": "s", "type": "quantitative", "axis": null}, "stroke": {"field": "g", "type": "nominal", "legend": null}}},
   {"data": {"name": "pe"}, "transform": [{"filter": "isValid(datum.yl)"}], "mark": {"type": "point", "shape": "M-1,0L1,0", "size": 40, "strokeWidth": 1, "opacity": 0.8},
    "encoding": {"x": {"field": "E", "type": "quantitative", "axis": null}, "y": {"field": "yl", "type": "quantitative", "axis": null}, "stroke": {"field": "g", "type": "nominal", "legend": null}}},
   {"data": {"name": "pe"}, "transform": [{"filter": "isValid(datum.yh)"}], "mark": {"type": "point", "shape": "M-1,0L1,0", "size": 40, "strokeWidth": 1, "opacity": 0.8},
    "encoding": {"x": {"field": "E", "type": "quantitative", "axis": null}, "y": {"field": "yh", "type": "quantitative", "axis": null}, "stroke": {"field": "g", "type": "nominal", "legend": null}}},
   {"data": {"name": "pe"}, "transform": [{"filter": "isValid(datum.lim)"}], "mark": {"type": "rule", "strokeWidth": 1, "opacity": 0.8},
    "encoding": {"x": {"field": "E", "type": "quantitative", "axis": null}, "y": {"field": "s", "type": "quantitative", "axis": null}, "y2": {"field": "lim"}, "stroke": {"field": "g", "type": "nominal", "legend": null}}},
   {"data": {"name": "pe"}, "transform": [{"filter": "isValid(datum.lim)"}], "mark": {"type": "point", "shape": "triangle-down", "size": 22, "filled": true, "opacity": 1},
    "encoding": {"x": {"field": "E", "type": "quantitative", "axis": null}, "y": {"field": "lim", "type": "quantitative", "axis": null}, "fill": {"field": "g", "type": "nominal", "legend": null}}},
   {"data": {"name": "pe"}, "mark": {"type": "point", "size": 60, "strokeWidth": 1, "opacity": 1, "fillOpacity": 1},
    "encoding": {"x": {"field": "E", "type": "quantitative", "axis": null}, "y": {"field": "s", "type": "quantitative", "axis": null},
     "shape": {"field": "g", "type": "nominal", "legend": null}, "fill": {"field": "g", "type": "nominal", "legend": null}, "stroke": {"field": "g", "type": "nominal", "legend": null}}},
   {"data": {"values": [{}]}, "mark": {"type": "text", "text": "⁴⁸Ca+²⁴⁹Bk", "fontSize": 17, "align": "left", "baseline": "middle"}, "encoding": {"x": {"datum": 44.03, "axis": null}, "y": {"datum": 9.0, "axis": null}}},
   {"data": {"values": [{}]}, "mark": {"type": "text", "text": "4n", "fontSize": 15, "align": "center", "baseline": "middle"}, "encoding": {"x": {"datum": 39.85, "axis": null}, "y": {"datum": 6.5, "axis": null}}},
   {"data": {"values": [{}]}, "mark": {"type": "text", "text": "5n", "fontSize": 15, "align": "center", "baseline": "middle"}, "encoding": {"x": {"datum": 54.98, "axis": null}, "y": {"datum": 2.09, "axis": null}}},
   {"data": {"values": [{}]}, "mark": {"type": "text", "text": "3n", "fontSize": 15, "align": "center", "baseline": "middle"}, "encoding": {"x": {"datum": 25.62, "axis": null}, "y": {"datum": 0.368, "axis": null}}},
   {"data": {"values": [{}]}, "mark": {"type": "text", "text": "(e)", "fontSize": 15, "align": "center", "baseline": "middle"}, "encoding": {"x": {"datum": 22.99, "axis": null}, "y": {"datum": 0.12, "axis": null}}}
  ]
 },
 {
  "width": 268, "height": 175,
  "resolve": {"axis": {"x": "independent", "y": "independent"}},
  "layer": [
   {"data": {"name": "cf"}, "mark": {"type": "line", "strokeWidth": 1.5, "clip": true, "interpolate": "monotone"},
    "encoding": {
     "x": {"field": "E", "type": "quantitative", "scale": {"domain": [20, 55], "nice": false, "zero": false}, "axis": {"orient": "bottom", "values": [20,30,40,50], "tickSize": 6, "offset": -6, "labelPadding": 8, "title": "E* (MeV)"}},
     "y": {"field": "s", "type": "quantitative", "scale": {"type": "log", "domain": [0.00495, 3], "nice": false}, "axis": {"orient": "left", "values": [0.01,0.1,1], "labelExpr": "datum.value==0.01?'10⁻²':datum.value==0.1?'10⁻¹':datum.value==1?'10⁰':datum.value==10?'10¹':'10²'", "tickSize": 6, "offset": -6, "labelPadding": 2.5, "title": null}},
     "color": {"field": "c", "type": "nominal", "scale": {"domain": ["2n","3n","4n","5n"], "range": ["#ff0000","#000000","#0000ff","#ff00ff"]}, "legend": null}
    }},
   {"data": {"name": "cf"}, "mark": {"type": "point", "opacity": 0},
    "encoding": {"x": {"field": "E", "type": "quantitative", "axis": {"orient": "bottom", "values": [25,35,45,55], "labels": false, "tickSize": 3, "offset": -3, "title": null}},
     "y": {"field": "s", "type": "quantitative", "axis": {"orient": "left", "values": [0.005,0.006,0.007,0.008,0.009,0.02,0.03,0.04,0.05,0.06,0.07,0.08,0.09,0.2,0.3,0.4,0.5,0.6,0.7,0.8,0.9,2,3], "labels": false, "tickSize": 3, "offset": -3, "title": null}}}},
   {"data": {"name": "cf"}, "mark": {"type": "point", "opacity": 0},
    "encoding": {"x": {"field": "E", "type": "quantitative", "axis": {"orient": "top", "values": [20,30,40,50], "labels": false, "tickSize": 6, "offset": -6, "title": null}},
     "y": {"field": "s", "type": "quantitative", "axis": {"orient": "right", "values": [0.01,0.1,1], "labels": false, "tickSize": 6, "offset": -6, "title": null}}}},
   {"data": {"name": "cf"}, "mark": {"type": "point", "opacity": 0},
    "encoding": {"x": {"field": "E", "type": "quantitative", "axis": {"orient": "top", "values": [25,35,45,55], "labels": false, "tickSize": 3, "offset": -3, "title": null}},
     "y": {"field": "s", "type": "quantitative", "axis": {"orient": "right", "values": [0.005,0.006,0.007,0.008,0.009,0.02,0.03,0.04,0.05,0.06,0.07,0.08,0.09,0.2,0.3,0.4,0.5,0.6,0.7,0.8,0.9,2,3], "labels": false, "tickSize": 3, "offset": -3, "title": null}}}},
   {"data": {"name": "pf"}, "mark": {"type": "point", "size": 60, "strokeWidth": 1, "opacity": 1, "fillOpacity": 1},
    "encoding": {"x": {"field": "E", "type": "quantitative", "axis": null}, "y": {"field": "s", "type": "quantitative", "axis": null},
     "shape": {"field": "g", "type": "nominal", "scale": {"domain": ["3n(Dubna)"], "range": ["circle"]}, "legend": {"title": null, "orient": "none", "legendX": 179, "legendY": 48, "direction": "vertical", "labelFontSize": 12.5, "symbolSize": 60, "rowPadding": 4, "labelOffset": 4, "symbolStrokeWidth": 1, "symbolOpacity": 1, "padding": 0, "labelColor": "#000000"}},
     "fill": {"field": "g", "type": "nominal", "scale": {"domain": ["3n(Dubna)"], "range": ["#000000"]}, "legend": {"title": null, "orient": "none", "legendX": 179, "legendY": 48, "direction": "vertical", "labelFontSize": 12.5, "symbolSize": 60, "rowPadding": 4, "labelOffset": 4, "symbolStrokeWidth": 1, "symbolOpacity": 1, "padding": 0, "labelColor": "#000000"}},
     "stroke": {"field": "g", "type": "nominal", "scale": {"domain": ["3n(Dubna)"], "range": ["#000000"]}, "legend": {"title": null, "orient": "none", "legendX": 179, "legendY": 48, "direction": "vertical", "labelFontSize": 12.5, "symbolSize": 60, "rowPadding": 4, "labelOffset": 4, "symbolStrokeWidth": 1, "symbolOpacity": 1, "padding": 0, "labelColor": "#000000"}}}},
   {"data": {"name": "pf"}, "transform": [{"filter": "isValid(datum.xl)"}], "mark": {"type": "rule", "strokeWidth": 1, "opacity": 0.8},
    "encoding": {"x": {"field": "xl", "type": "quantitative", "axis": null}, "x2": {"field": "xh"}, "y": {"field": "s", "type": "quantitative", "axis": null}, "stroke": {"field": "g", "type": "nominal", "legend": null}}},
   {"data": {"name": "pf"}, "transform": [{"filter": "isValid(datum.yl)"}], "mark": {"type": "rule", "strokeWidth": 1, "opacity": 0.8},
    "encoding": {"x": {"field": "E", "type": "quantitative", "axis": null}, "y": {"field": "yl", "type": "quantitative", "axis": null}, "y2": {"field": "yh"}, "stroke": {"field": "g", "type": "nominal", "legend": null}}},
   {"data": {"name": "pf"}, "transform": [{"filter": "isValid(datum.xl)"}], "mark": {"type": "point", "shape": "M0,-1L0,1", "size": 36, "strokeWidth": 1, "opacity": 0.8},
    "encoding": {"x": {"field": "xl", "type": "quantitative", "axis": null}, "y": {"field": "s", "type": "quantitative", "axis": null}, "stroke": {"field": "g", "type": "nominal", "legend": null}}},
   {"data": {"name": "pf"}, "transform": [{"filter": "isValid(datum.xh)"}], "mark": {"type": "point", "shape": "M0,-1L0,1", "size": 36, "strokeWidth": 1, "opacity": 0.8},
    "encoding": {"x": {"field": "xh", "type": "quantitative", "axis": null}, "y": {"field": "s", "type": "quantitative", "axis": null}, "stroke": {"field": "g", "type": "nominal", "legend": null}}},
   {"data": {"name": "pf"}, "transform": [{"filter": "isValid(datum.yl)"}], "mark": {"type": "point", "shape": "M-1,0L1,0", "size": 40, "strokeWidth": 1, "opacity": 0.8},
    "encoding": {"x": {"field": "E", "type": "quantitative", "axis": null}, "y": {"field": "yl", "type": "quantitative", "axis": null}, "stroke": {"field": "g", "type": "nominal", "legend": null}}},
   {"data": {"name": "pf"}, "transform": [{"filter": "isValid(datum.yh)"}], "mark": {"type": "point", "shape": "M-1,0L1,0", "size": 40, "strokeWidth": 1, "opacity": 0.8},
    "encoding": {"x": {"field": "E", "type": "quantitative", "axis": null}, "y": {"field": "yh", "type": "quantitative", "axis": null}, "stroke": {"field": "g", "type": "nominal", "legend": null}}},
   {"data": {"name": "pf"}, "mark": {"type": "point", "size": 60, "strokeWidth": 1, "opacity": 1, "fillOpacity": 1},
    "encoding": {"x": {"field": "E", "type": "quantitative", "axis": null}, "y": {"field": "s", "type": "quantitative", "axis": null},
     "shape": {"field": "g", "type": "nominal", "legend": null}, "fill": {"field": "g", "type": "nominal", "legend": null}, "stroke": {"field": "g", "type": "nominal", "legend": null}}},
   {"data": {"values": [{}]}, "mark": {"type": "text", "text": "⁴⁸Ca+²⁴⁹Cf", "fontSize": 17, "align": "left", "baseline": "middle"}, "encoding": {"x": {"datum": 41.2, "axis": null}, "y": {"datum": 1.13, "axis": null}}},
   {"data": {"values": [{}]}, "mark": {"type": "text", "text": "4n", "fontSize": 15, "align": "center", "baseline": "middle"}, "encoding": {"x": {"datum": 50.8, "axis": null}, "y": {"datum": 0.162, "axis": null}}},
   {"data": {"values": [{}]}, "mark": {"type": "text", "text": "3n", "fontSize": 15, "align": "center", "baseline": "middle"}, "encoding": {"x": {"datum": 26.52, "axis": null}, "y": {"datum": 0.0674, "axis": null}}},
   {"data": {"values": [{}]}, "mark": {"type": "text", "text": "(f)", "fontSize": 15, "align": "center", "baseline": "middle"}, "encoding": {"x": {"datum": 23.17, "axis": null}, "y": {"datum": 0.00885, "axis": null}}}
  ]
 }
]
}
